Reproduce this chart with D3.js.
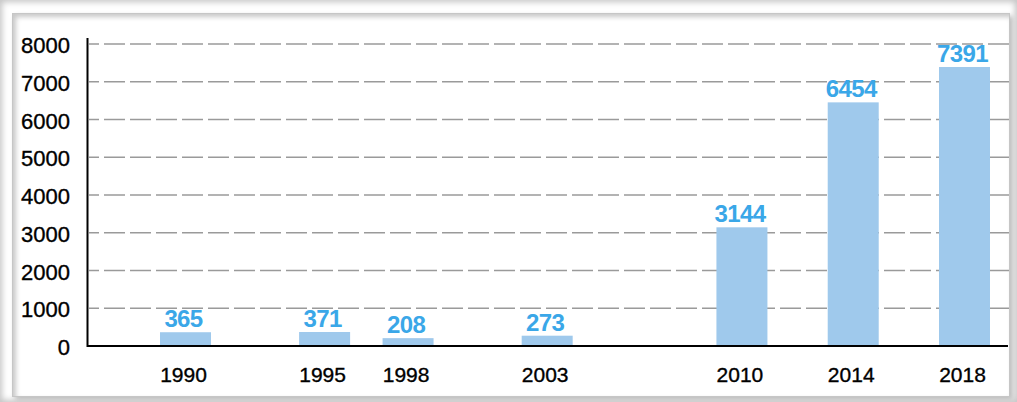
<!DOCTYPE html>
<html>
<head>
<meta charset="utf-8">
<script src="https://cdn.jsdelivr.net/npm/d3@7"></script>
<style>
  html, body { margin: 0; padding: 0; background: #fff; }
  #wrap { position: relative; width: 1017px; height: 402px; overflow: hidden;
          box-shadow: inset 0 0 6px 2px #c4c4c4; }
  #inner { position: absolute; left: 12px; top: 13px; width: 996px; height: 382px;
           border: 1px solid #c6c6c6;
           box-shadow: inset 3px 3px 5px #c8c8c8, 3px 3px 5px #bdbdbd; background: #fff; }
  svg { position: absolute; left: 0; top: 0; }
</style>
</head>
<body>
<div id="wrap"><div id="inner"></div><div id="chart-area"></div></div>
<script>
// data
var years = [1990, 1995, 1998, 2003, 2010, 2014, 2018];
var values = [365, 371, 208, 273, 3144, 6454, 7391];
var yTicks = [0, 1000, 2000, 3000, 4000, 5000, 6000, 7000, 8000];

var data = years.map((d, i) => ({year: d, value: values[i]}));

var svg = d3.select("#chart-area").append("svg")
  .attr("width", 1017)
  .attr("height", 402);

var x = d3.scaleLinear()
  .domain([1990, 2018])
  .range([185.5, 964.5]);

var y = d3.scaleLinear()
  .domain([0, 8000])
  .range([346, 44]);

var barW = 51;

// dashed grid lines
svg.selectAll("line.grid").data(yTicks.filter(d => d > 0))
  .enter().append("line")
  .attr("class", "grid")
  .attr("x1", 89).attr("x2", 1010)
  .attr("y1", d => y(d)).attr("y2", d => y(d))
  .attr("stroke", "#9a9a9a")
  .attr("stroke-width", 1.5)
  .attr("stroke-dasharray", "21,5")
  .attr("stroke-dashoffset", 11);

// bars
svg.selectAll("rect.bar").data(data)
  .enter().append("rect")
  .attr("class", "bar")
  .attr("x", d => x(d.year) - barW / 2)
  .attr("y", d => y(d.value))
  .attr("width", barW)
  .attr("height", d => y(0) - y(d.value))
  .attr("fill", "#9fc9ec");

// value labels
svg.selectAll("text.val").data(data)
  .enter().append("text")
  .attr("class", "val")
  .attr("x", d => x(d.year) - 2)
  .attr("y", d => y(d.value) - 5)
  .attr("text-anchor", "middle")
  .attr("font-family", "'Liberation Sans', Arial, sans-serif")
  .attr("font-weight", "bold")
  .attr("font-size", 24)
  .attr("letter-spacing", -0.6)
  .attr("fill", "#3aa7e8")
  .text(d => d.value);

// axes lines
svg.append("line")
  .attr("x1", 87.5).attr("x2", 87.5)
  .attr("y1", 38).attr("y2", 347)
  .attr("stroke", "#000").attr("stroke-width", 2);

svg.append("line")
  .attr("x1", 87).attr("x2", 1008)
  .attr("y1", y(0)).attr("y2", y(0))
  .attr("stroke", "#000").attr("stroke-width", 2);

// y tick labels
svg.selectAll("text.ytick").data(yTicks)
  .enter().append("text")
  .attr("class", "ytick")
  .attr("x", 70)
  .attr("y", d => y(d) + 1.5)
  .attr("dy", "0.35em")
  .attr("text-anchor", "end")
  .attr("font-family", "'Liberation Sans', Arial, sans-serif")
  .attr("font-size", 22)
  .attr("fill", "#000")
  .attr("stroke", "#000")
  .attr("stroke-width", 0.35)
  .text(d => d);

// x tick labels
svg.selectAll("text.xtick").data(years)
  .enter().append("text")
  .attr("class", "xtick")
  .attr("x", d => x(d) - 2)
  .attr("y", 382)
  .attr("text-anchor", "middle")
  .attr("font-family", "'Liberation Sans', Arial, sans-serif")
  .attr("font-size", 21)
  .attr("fill", "#000")
  .attr("stroke", "#000")
  .attr("stroke-width", 0.35)
  .text(d => d);
</script>
</body>
</html>
